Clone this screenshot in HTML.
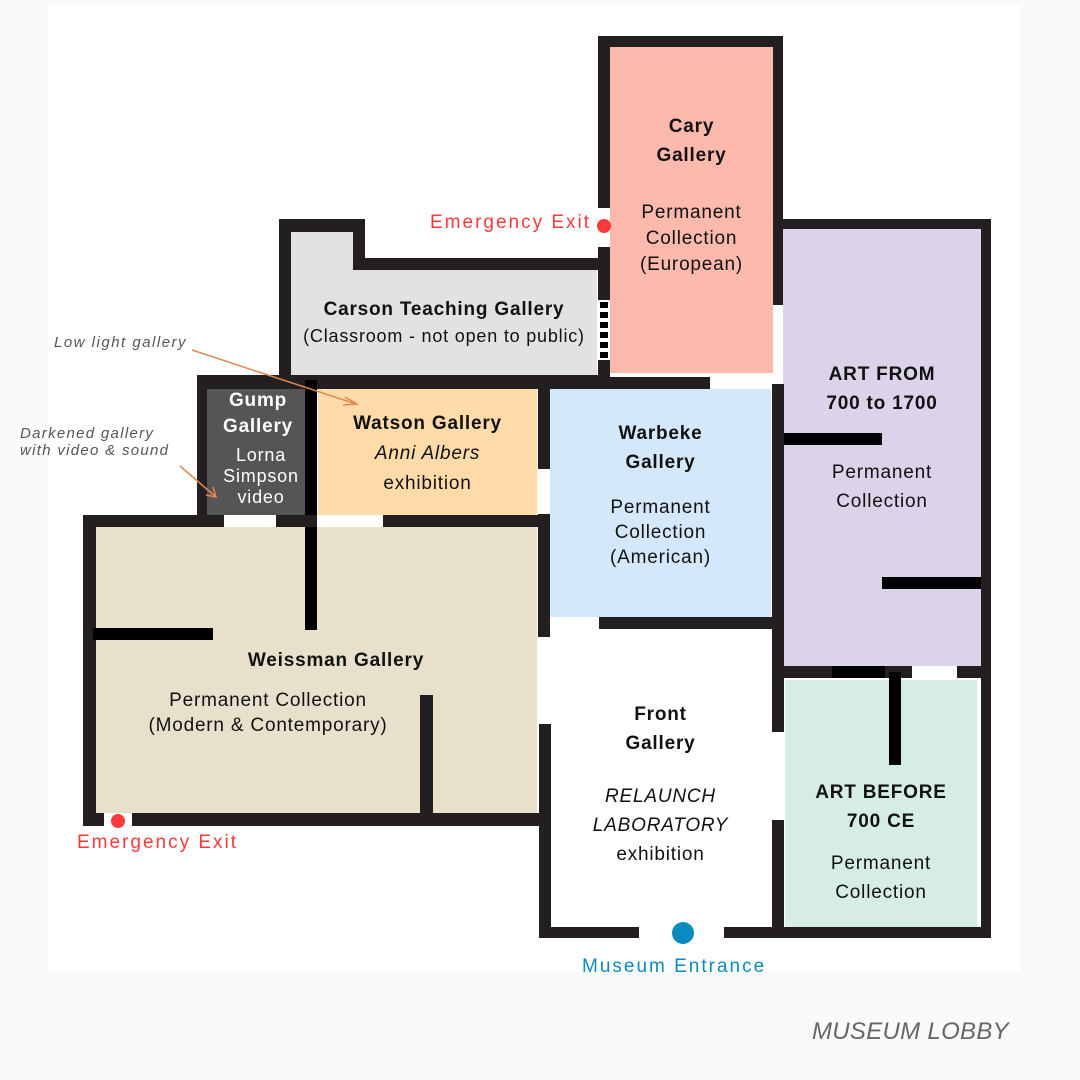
<!DOCTYPE html>
<html><head><meta charset="utf-8"><style>
body{margin:0;width:1080px;height:1080px;background:#fafafa;position:relative;overflow:hidden;font-family:"Liberation Sans",sans-serif}
div{position:absolute;box-sizing:border-box}
.w{background:#231f20}
.k{background:#000}
.t{text-align:center;color:#111;font-size:19px;line-height:29px;letter-spacing:0.8px}
.b{font-weight:bold}
</style></head><body>
<div style="left:48px;top:5px;width:972px;height:967px;background:#fff"></div>

<!-- fills -->
<div style="left:610px;top:47px;width:163px;height:326px;background:#feb9ad"></div>
<div style="left:783px;top:229px;width:198px;height:437px;background:#dbd3ea"></div>
<div style="left:785px;top:680px;width:192px;height:247px;background:#d6ede6"></div>
<div style="left:550px;top:389px;width:221px;height:228px;background:#d4e8fc"></div>
<div style="left:290px;top:232px;width:63px;height:40px;background:#e2e2e2"></div>
<div style="left:290px;top:270px;width:307px;height:105px;background:#e2e2e2"></div>
<div style="left:207px;top:389px;width:98px;height:126px;background:#555"></div>
<div style="left:318px;top:389px;width:219px;height:126px;background:#fedba8"></div>
<div style="left:96px;top:527px;width:441px;height:286px;background:#e9e0cc"></div>

<!-- walls -->
<div class="w" style="left:598px;top:36px;width:185px;height:11px"></div>
<div class="w" style="left:598px;top:36px;width:12px;height:172px"></div>
<div class="w" style="left:598px;top:247px;width:12px;height:53px"></div>
<div class="w" style="left:598px;top:360px;width:12px;height:20px"></div>
<div style="left:600px;top:302px;width:8px;height:58px;background:repeating-linear-gradient(#000 0 6px,#fff 6px 10px)"></div>
<div class="w" style="left:773px;top:36px;width:10px;height:269px"></div>
<div class="w" style="left:773px;top:219px;width:218px;height:10px"></div>
<div class="w" style="left:981px;top:219px;width:10px;height:719px"></div>
<div class="w" style="left:772px;top:384px;width:12px;height:348px"></div>
<div class="k" style="left:784px;top:433px;width:98px;height:12px"></div>
<div class="k" style="left:882px;top:577px;width:99px;height:12px"></div>
<div class="w" style="left:772px;top:666px;width:60px;height:12px"></div>
<div class="k" style="left:832px;top:666px;width:53px;height:12px"></div>
<div class="w" style="left:885px;top:666px;width:27px;height:12px"></div>
<div class="w" style="left:957px;top:666px;width:30px;height:12px"></div>
<div class="k" style="left:889px;top:672px;width:12px;height:93px"></div>
<div class="w" style="left:772px;top:820px;width:12px;height:118px"></div>
<div class="w" style="left:724px;top:927px;width:267px;height:11px"></div>
<div class="w" style="left:539px;top:927px;width:100px;height:11px"></div>
<div class="w" style="left:539px;top:724px;width:12px;height:214px"></div>
<div class="w" style="left:538px;top:377px;width:172px;height:12px"></div>
<div class="w" style="left:538px;top:377px;width:12px;height:92px"></div>
<div class="w" style="left:538px;top:514px;width:12px;height:123px"></div>
<div class="w" style="left:599px;top:617px;width:185px;height:12px"></div>
<div class="w" style="left:279px;top:219px;width:86px;height:13px"></div>
<div class="w" style="left:353px;top:219px;width:12px;height:51px"></div>
<div class="w" style="left:353px;top:258px;width:245px;height:12px"></div>
<div class="w" style="left:279px;top:219px;width:12px;height:160px"></div>
<div class="w" style="left:197px;top:375px;width:413px;height:14px"></div>
<div class="w" style="left:197px;top:377px;width:10px;height:150px"></div>
<div class="k" style="left:305px;top:380px;width:12px;height:250px"></div>
<div class="w" style="left:197px;top:515px;width:27px;height:12px"></div>
<div class="w" style="left:276px;top:515px;width:41px;height:12px"></div>
<div class="w" style="left:383px;top:515px;width:166px;height:12px"></div>
<div class="w" style="left:83px;top:515px;width:141px;height:12px"></div>
<div class="w" style="left:83px;top:515px;width:13px;height:311px"></div>
<div class="w" style="left:83px;top:813px;width:21px;height:13px"></div>
<div class="w" style="left:132px;top:813px;width:419px;height:13px"></div>
<div class="k" style="left:93px;top:628px;width:120px;height:12px"></div>
<div class="w" style="left:420px;top:695px;width:13px;height:131px"></div>

<!-- dots -->
<div style="left:597px;top:219px;width:14px;height:14px;border-radius:50%;background:#fa3a3a"></div>
<div style="left:111px;top:814px;width:14px;height:14px;border-radius:50%;background:#fa3a3a"></div>
<div style="left:672px;top:922px;width:22px;height:22px;border-radius:50%;background:#0a8ac0"></div>

<!-- labels -->
<div class="t" style="left:610px;top:112px;width:163px"><b>Cary<br>Gallery</b></div>
<div class="t" style="left:610px;top:200px;width:163px;line-height:26px">Permanent<br>Collection<br>(European)</div>
<div class="t" style="left:783px;top:360px;width:198px"><b>ART FROM<br>700 to 1700</b></div>
<div class="t" style="left:783px;top:458px;width:198px">Permanent<br>Collection</div>
<div class="t" style="left:785px;top:778px;width:192px"><b>ART BEFORE<br>700 CE</b></div>
<div class="t" style="left:785px;top:849px;width:192px">Permanent<br>Collection</div>
<div class="t" style="left:550px;top:419px;width:221px"><b>Warbeke<br>Gallery</b></div>
<div class="t" style="left:550px;top:495px;width:221px;line-height:25px">Permanent<br>Collection<br>(American)</div>
<div class="t" style="left:550px;top:700px;width:221px"><b>Front<br>Gallery</b></div>
<div class="t" style="left:550px;top:782px;width:221px"><i>RELAUNCH<br>LABORATORY</i><br>exhibition</div>
<div class="t" style="left:281px;top:297px;width:326px;line-height:26px"><b>Carson Teaching Gallery</b><br><span style="font-size:18px">(Classroom - not open to public)</span></div>
<div class="t" style="left:207px;top:388px;width:102px;color:#fff;line-height:26px"><b>Gump<br>Gallery</b></div>
<div class="t" style="left:210px;top:445px;width:102px;color:#fff;line-height:21px;font-size:18px">Lorna<br>Simpson<br>video</div>
<div class="t" style="left:318px;top:409px;width:219px;line-height:30px"><b>Watson Gallery</b><br><i>Anni Albers</i><br>exhibition</div>
<div class="t" style="left:216px;top:646px;width:240px"><b>Weissman Gallery</b></div>
<div class="t" style="left:108px;top:688px;width:320px;line-height:25px">Permanent Collection<br>(Modern &amp; Contemporary)</div>

<div style="left:430px;top:212px;font-size:19px;letter-spacing:2px;color:#fa3a3a;white-space:nowrap">Emergency Exit</div>
<div style="left:77px;top:832px;font-size:19px;letter-spacing:2px;color:#fa3a3a;white-space:nowrap">Emergency Exit</div>
<div style="left:582px;top:956px;font-size:19px;letter-spacing:2px;color:#0a8ac0;white-space:nowrap">Museum Entrance</div>
<div style="left:54px;top:334px;font-size:15px;letter-spacing:1.5px;font-style:italic;color:#555;white-space:nowrap">Low light gallery</div>
<div style="left:20px;top:425px;font-size:15px;letter-spacing:1.3px;font-style:italic;color:#555;line-height:17px;white-space:nowrap">Darkened gallery<br>with video &amp; sound</div>
<div style="left:812px;top:1018px;font-size:24px;letter-spacing:0.3px;font-style:italic;color:#666;white-space:nowrap">MUSEUM LOBBY</div>

<svg style="position:absolute;left:0;top:0" width="1080" height="1080">
<g stroke="#e08850" stroke-width="1.5" fill="none">
<line x1="192" y1="350" x2="356" y2="404"/>
<polyline points="345,397 357,404 343,405"/>
<line x1="180" y1="466" x2="216" y2="497"/>
<polyline points="206,495 216,497 213,487"/>
</g>
</svg>
</body></html>
